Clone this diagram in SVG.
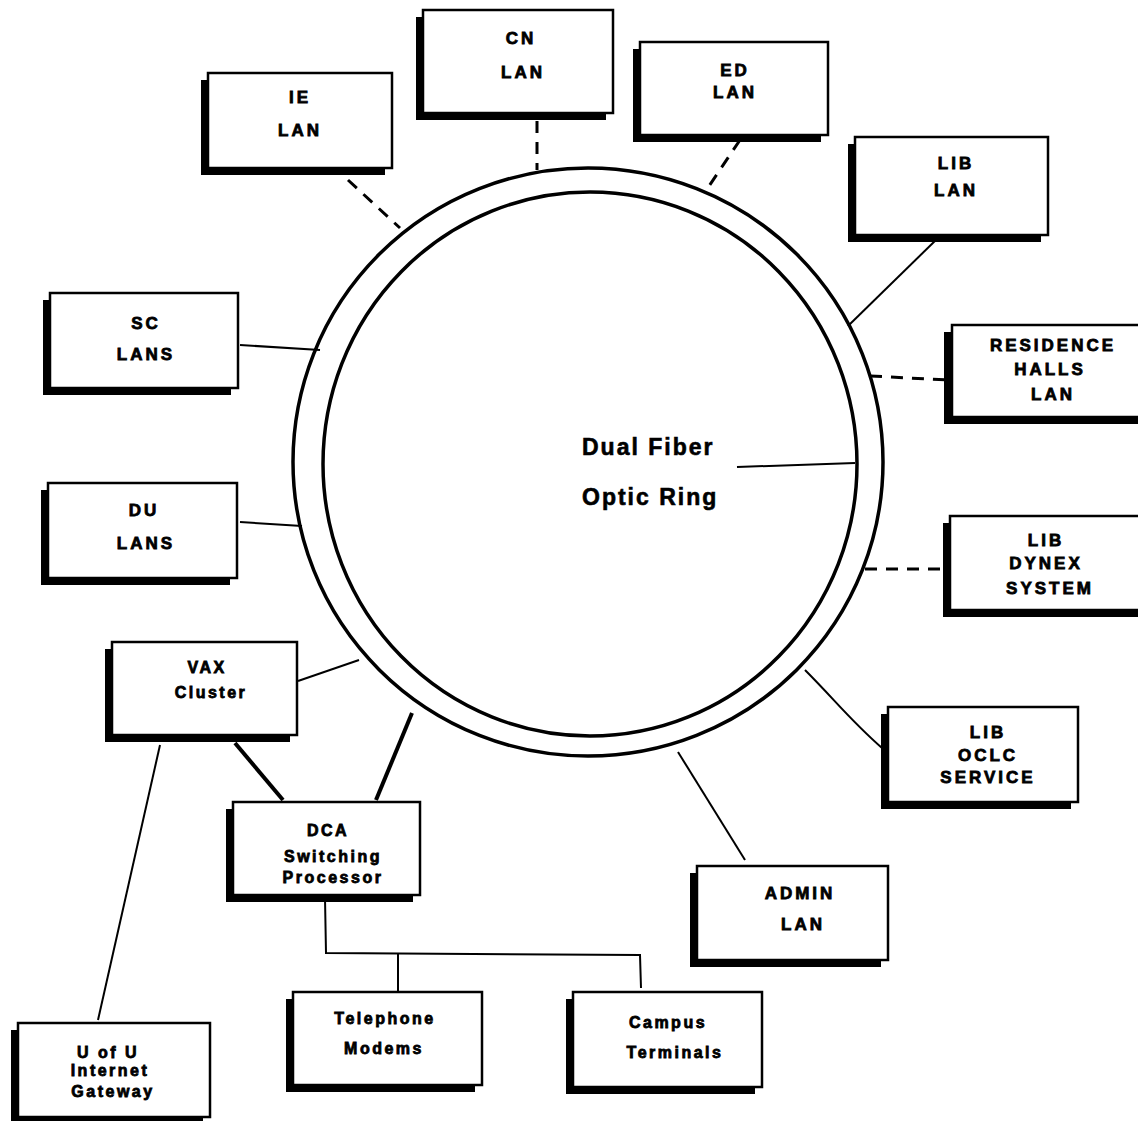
<svg xmlns="http://www.w3.org/2000/svg" width="1138" height="1121" viewBox="0 0 1138 1121">
<style>
.sh{fill:#000}
.bx{fill:#fff;stroke:#000;stroke-width:2.5}
.t{font-family:"Liberation Sans",Arial,sans-serif;font-weight:bold;font-size:17px;letter-spacing:3px;text-anchor:middle;fill:#000;stroke:#000;stroke-width:0.8}
.ts{font-size:16px;letter-spacing:2.5px}
.big{font-family:"Liberation Sans",Arial,sans-serif;font-weight:bold;font-size:23px;letter-spacing:2px;fill:#000;stroke:#000;stroke-width:0.6}
.ln{stroke:#000;stroke-width:2;fill:none}
.thk{stroke:#000;stroke-width:4;fill:none}
.ds{stroke:#000;stroke-width:3;fill:none;stroke-dasharray:12 9}
.ring{stroke:#000;stroke-width:3.5;fill:none}
</style>
<rect width="1138" height="1121" fill="#fff"/>
<g id="ring">
<ellipse class="ring" cx="588" cy="462" rx="295" ry="294"/>
<ellipse class="ring" cx="590" cy="464" rx="267" ry="272"/>
</g>
<g id="connectors">
<line class="ds" x1="348" y1="180" x2="400" y2="228"/>
<line class="ds" x1="537" y1="121" x2="537" y2="170"/>
<line class="ds" x1="740" y1="140" x2="705" y2="192"/>
<line class="ln" x1="938" y1="238" x2="848" y2="326"/>
<line class="ds" x1="870" y1="376" x2="948" y2="380"/>
<line class="ds" x1="865" y1="569" x2="945" y2="569"/>
<path class="ln" d="M805 670 C835 700 850 720 882 748"/>
<line class="ln" x1="678" y1="752" x2="745" y2="860"/>
<line class="ln" x1="240" y1="345" x2="320" y2="350"/>
<line class="ln" x1="240" y1="522" x2="302" y2="526"/>
<line class="ln" x1="298" y1="681" x2="359" y2="660"/>
<line class="thk" x1="376" y1="800" x2="412" y2="713"/>
<line class="thk" x1="235" y1="743" x2="283" y2="800"/>
<line class="ln" x1="160" y1="745" x2="98" y2="1020"/>
<polyline class="ln" points="325,898 326,953 640,955 641,988"/>
<line class="ln" x1="398" y1="953" x2="398" y2="992"/>
<line class="ln" x1="737" y1="467" x2="855" y2="463"/>
</g>
<g id="ie"><rect class="sh" x="201" y="80" width="184" height="95"/><rect class="bx" x="208" y="73" width="184" height="95"/><text class="t" x="300" y="103">IE</text><text class="t" x="300" y="136">LAN</text></g>
<g id="cn"><rect class="sh" x="416" y="17" width="190" height="103"/><rect class="bx" x="423" y="10" width="190" height="103"/><text class="t" x="521" y="44">CN</text><text class="t" x="523" y="78">LAN</text></g>
<g id="ed"><rect class="sh" x="633" y="49" width="188" height="93"/><rect class="bx" x="640" y="42" width="188" height="93"/><text class="t" x="735" y="76">ED</text><text class="t" x="735" y="98">LAN</text></g>
<g id="liblan"><rect class="sh" x="848" y="144" width="193" height="98"/><rect class="bx" x="855" y="137" width="193" height="98"/><text class="t" x="956" y="169">LIB</text><text class="t" x="956" y="196">LAN</text></g>
<g id="res"><rect class="sh" x="944" y="332" width="194" height="92"/><rect class="bx" x="952" y="325" width="194" height="92"/><text class="t" x="1053" y="351">RESIDENCE</text><text class="t" x="1050" y="375">HALLS</text><text class="t" x="1053" y="400">LAN</text></g>
<g id="dynex"><rect class="sh" x="943" y="523" width="195" height="94"/><rect class="bx" x="950" y="516" width="195" height="94"/><text class="t" x="1046" y="546">LIB</text><text class="t" x="1046" y="569">DYNEX</text><text class="t" x="1050" y="594">SYSTEM</text></g>
<g id="oclc"><rect class="sh" x="881" y="714" width="190" height="95"/><rect class="bx" x="888" y="707" width="190" height="95"/><text class="t" x="988" y="738">LIB</text><text class="t" x="988" y="761">OCLC</text><text class="t" x="988" y="783">SERVICE</text></g>
<g id="admin"><rect class="sh" x="690" y="873" width="191" height="94"/><rect class="bx" x="697" y="866" width="191" height="94"/><text class="t" x="800" y="899">ADMIN</text><text class="t" x="803" y="930">LAN</text></g>
<g id="campus"><rect class="sh" x="566" y="999" width="189" height="95"/><rect class="bx" x="573" y="992" width="189" height="95"/><text class="t ts" x="668" y="1028">Campus</text><text class="t ts" x="675" y="1058">Terminals</text></g>
<g id="tel"><rect class="sh" x="286" y="999" width="189" height="93"/><rect class="bx" x="293" y="992" width="189" height="93"/><text class="t ts" x="385" y="1024">Telephone</text><text class="t ts" x="384" y="1054">Modems</text></g>
<g id="uofu"><rect class="sh" x="11" y="1030" width="192" height="94"/><rect class="bx" x="18" y="1023" width="192" height="94"/><text class="t ts" x="108" y="1058">U of U</text><text class="t ts" x="110" y="1076">Internet</text><text class="t ts" x="113" y="1097">Gateway</text></g>
<g id="dca"><rect class="sh" x="226" y="809" width="187" height="93"/><rect class="bx" x="233" y="802" width="187" height="93"/><text class="t ts" x="328" y="836">DCA</text><text class="t ts" x="333" y="862">Switching</text><text class="t ts" x="333" y="883">Processor</text></g>
<g id="vax"><rect class="sh" x="105" y="649" width="185" height="93"/><rect class="bx" x="112" y="642" width="185" height="93"/><text class="t ts" x="207" y="673">VAX</text><text class="t ts" x="211" y="698">Cluster</text></g>
<g id="du"><rect class="sh" x="41" y="490" width="189" height="95"/><rect class="bx" x="48" y="483" width="189" height="95"/><text class="t" x="144" y="516">DU</text><text class="t" x="146" y="549">LANS</text></g>
<g id="sc"><rect class="sh" x="43" y="300" width="188" height="95"/><rect class="bx" x="50" y="293" width="188" height="95"/><text class="t" x="146" y="329">SC</text><text class="t" x="146" y="360">LANS</text></g>
<g id="label"><text class="big" x="582" y="455">Dual Fiber</text><text class="big" x="582" y="505">Optic Ring</text></g>
</svg>
